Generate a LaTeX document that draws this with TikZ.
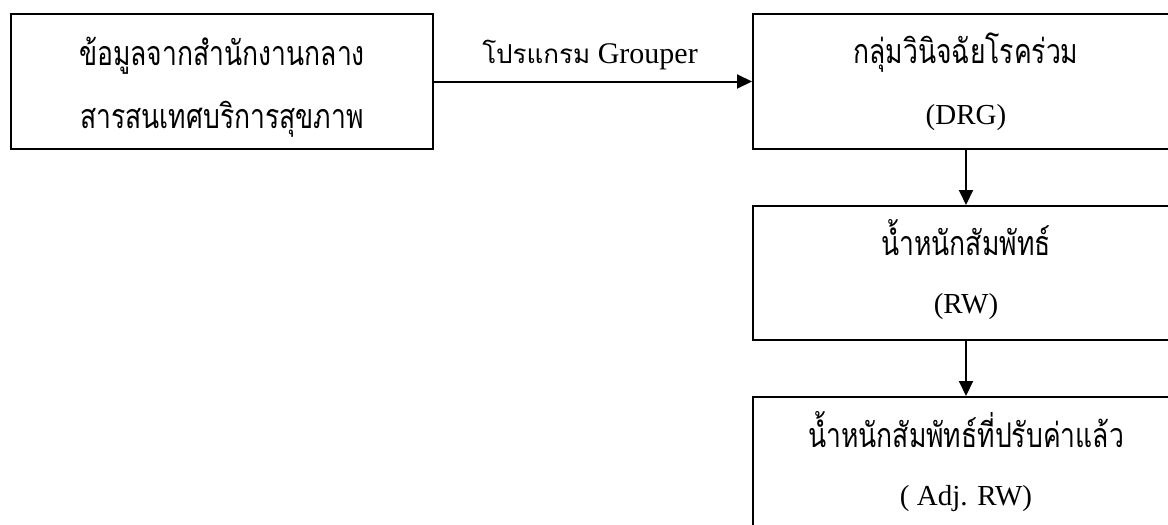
\documentclass[tikz,border=0pt]{standalone}
\usepackage{fontspec}
\setmainfont{Liberation Serif}
\newfontfamily\thaifont[Script=Thai,FakeStretch=0.78]{Loma}
\newfontfamily\thaismall[Script=Thai]{Loma}
\usetikzlibrary{arrows.meta}
\begin{document}
\begin{tikzpicture}[x=1pt,y=-1pt,
  box/.style={draw, line width=2pt, rectangle, minimum width=422pt, minimum height=135pt, inner sep=0pt},
  thai/.style={anchor=base, inner sep=0pt, font=\thaifont\fontsize{34}{40}\selectfont},
  latin/.style={anchor=base, inner sep=0pt, font=\fontsize{29}{34}\selectfont},
  conn/.style={line width=2pt, -{Triangle[length=15pt,width=14pt]}}]
\useasboundingbox (0,0) rectangle (1168,525);
\clip (0,0) rectangle (1168,525);
\fill[white] (0,0) rectangle (1168,525);

% boxes
\node[box] (src) at (222,81.5) {};
\node[box, minimum width=426pt] (drg) at (966,81.5) {};
\node[box, minimum width=426pt, minimum height=134pt] (rw) at (966,273) {};
\node[box, minimum width=426pt] (adj) at (966,464.5) {};

% box texts
\node[thai] (t1a) at (222,65) {ข้อมูลจากสำนักงานกลาง};
\node[thai] (t1b) at (222,128) {สารสนเทศบริการสุขภาพ};
\node[thai] (t2a) at (966,63) {กลุ่มวินิจฉัยโรคร่วม};
\node[latin] (t2b) at (966,124) {(DRG)};
\node[thai] (t3a) at (966,255) {น้ำหนักสัมพัทธ์};
\node[latin] (t3b) at (966,313) {(RW)};
\node[thai] (t4a) at (966,447) {น้ำหนักสัมพัทธ์ที่ปรับค่าแล้ว};
\node[latin] (t4b) at (966,505) {( Adj. RW)};

% connectors
\draw[conn] (src.east) -- (drg.west);
\draw[conn] (drg.south) -- (rw.north);
\draw[conn] (rw.south) -- (adj.north);

% connector label
\node[anchor=base, inner sep=0pt] (lbl) at (590,63) {{\thaismall\fontsize{26}{30}\selectfont โปรแกรม}\fontsize{30}{34}\selectfont{} Grouper};
\end{tikzpicture}
\end{document}
